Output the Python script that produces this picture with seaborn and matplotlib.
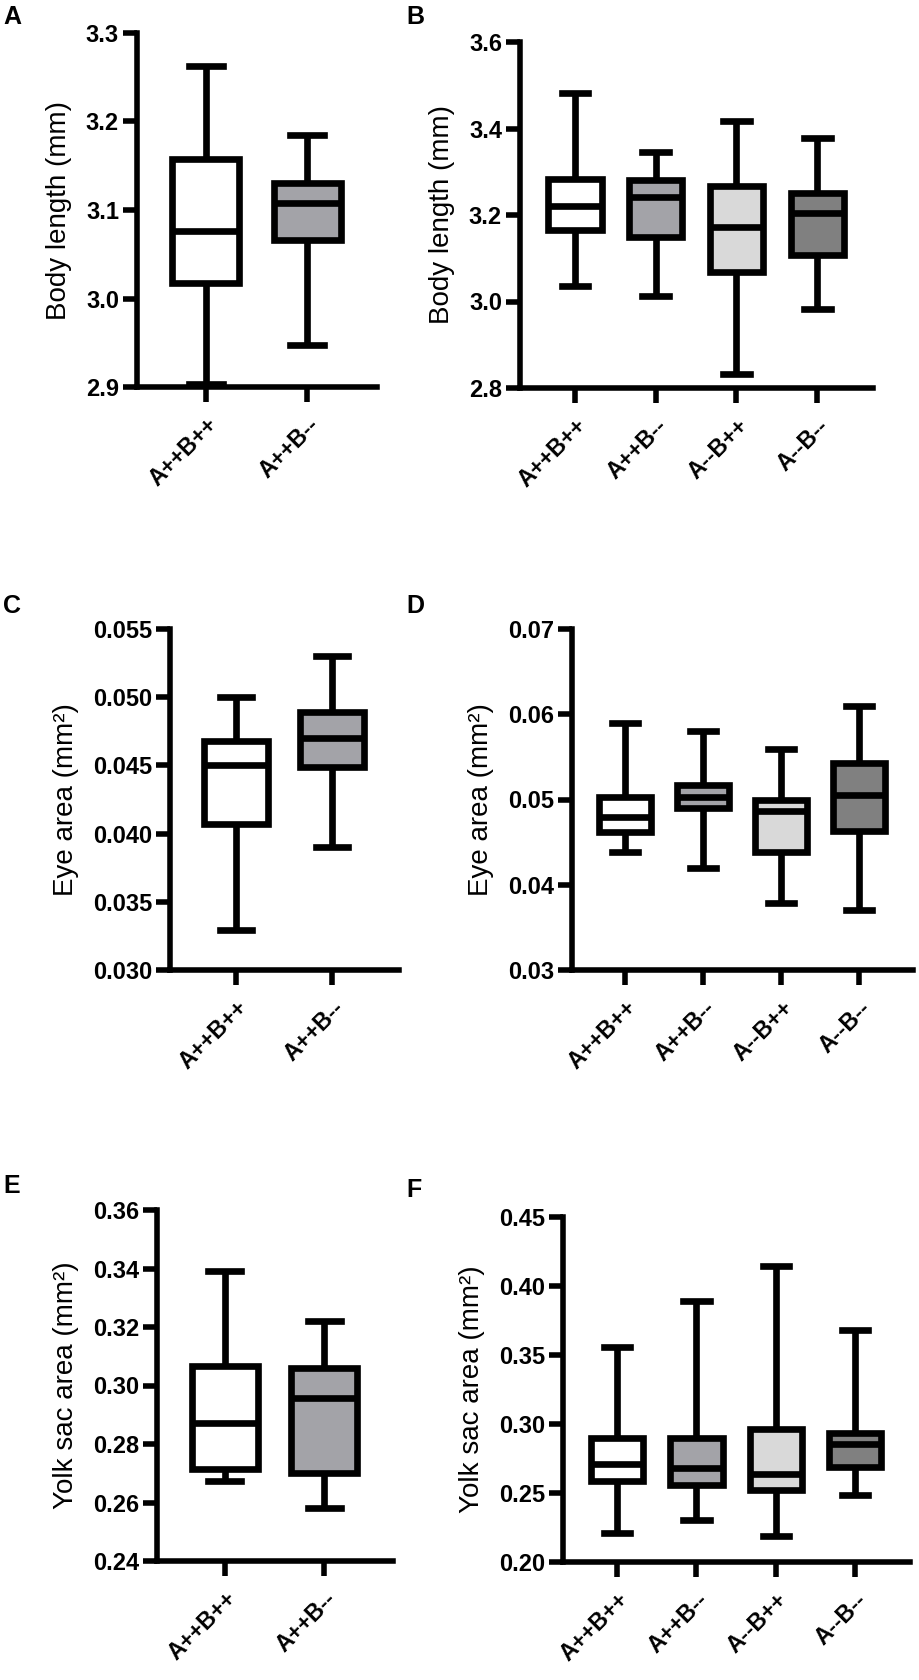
import pandas as pd
import seaborn as sns
import matplotlib.pyplot as plt
from matplotlib.ticker import FormatStrFormatter

groups2 = ["A++B++", "A++B--"]
groups4 = ["A++B++", "A++B--", "A--B++", "A--B--"]

# five-number summary per group: min, q1, median, q3, max
body_a = [[2.903, 3.017, 3.076, 3.158, 3.263],
          [2.947, 3.066, 3.108, 3.130, 3.185]]
body_b = [[3.035, 3.165, 3.220, 3.283, 3.481],
          [3.013, 3.148, 3.242, 3.281, 3.345],
          [2.832, 3.068, 3.172, 3.268, 3.418],
          [2.982, 3.108, 3.204, 3.250, 3.377]]
eye_c = [[0.0329, 0.0407, 0.0450, 0.0468, 0.0500],
         [0.0390, 0.0449, 0.0470, 0.0489, 0.0530]]
eye_d = [[0.0439, 0.0462, 0.0480, 0.0503, 0.0590],
         [0.0420, 0.0490, 0.0503, 0.0517, 0.0580],
         [0.0379, 0.0438, 0.0487, 0.0500, 0.0559],
         [0.0370, 0.0463, 0.0505, 0.0543, 0.0610]]
yolk_e = [[0.2674, 0.2713, 0.2871, 0.3068, 0.3393],
          [0.2580, 0.2700, 0.2956, 0.3061, 0.3222]]
yolk_f = [[0.2210, 0.2587, 0.2713, 0.2899, 0.3558],
          [0.2307, 0.2560, 0.2684, 0.2899, 0.3891],
          [0.2188, 0.2519, 0.2640, 0.2966, 0.4143],
          [0.2483, 0.2688, 0.2857, 0.2937, 0.3679]]

fills = {"A++B++": "#ffffff", "A++B--": "#a3a3a8",
         "A--B++": "#d9d9d9", "A--B--": "#808080"}

plt.rcParams["font.family"] = ["Liberation Sans", "DejaVu Sans"]

W, H = 919, 1680
fig = plt.figure(figsize=(W / 100, H / 100), dpi=100)

panels = [
    # letter, groups, data, ylabel, ylim, step, fmt, box px (l, r, t, b), letter px
    ("A", groups2, body_a, "Body length (mm)", (2.9, 3.3), 0.1, "%.1f", (137, 377, 33, 387), (3, 17)),
    ("B", groups4, body_b, "Body length (mm)", (2.8, 3.6), 0.2, "%.1f", (520, 873, 42, 388), (406, 17)),
    ("C", groups2, eye_c, "Eye area (mm²)", (0.030, 0.055), 0.005, "%.3f", (170, 399, 629, 970), (3, 606)),
    ("D", groups4, eye_d, "Eye area (mm²)", (0.03, 0.07), 0.01, "%.2f", (572, 913, 629, 970), (406, 606)),
    ("E", groups2, yolk_e, "Yolk sac area (mm²)", (0.24, 0.36), 0.02, "%.2f", (157, 393, 1210, 1561), (3, 1186)),
    ("F", groups4, yolk_f, "Yolk sac area (mm²)", (0.20, 0.45), 0.05, "%.2f", (563, 910, 1217, 1562), (406, 1190)),
]

for letter, groups, stats, ylabel, ylim, step, fmt, (l, r, t, b), (lx, ly) in panels:
    ax = fig.add_axes([l / W, 1 - b / H, (r - l) / W, (b - t) / H])
    rows = [(g, v) for g, vals in zip(groups, stats) for v in vals]
    df = pd.DataFrame(rows, columns=["group", "value"])
    sns.boxplot(data=df, x="group", y="value", hue="group", order=groups,
                hue_order=groups, palette=fills, saturation=1, width=0.66,
                linewidth=4.8, linecolor="black", whis=(0, 100),
                showfliers=False, legend=False, ax=ax)
    n = len(groups)
    ax.set_xlim(-0.68, n - 1 + 0.69)
    ax.set_ylim(*ylim)
    nticks = int(round((ylim[1] - ylim[0]) / step))
    ax.set_yticks([ylim[0] + i * step for i in range(nticks + 1)])
    ax.yaxis.set_major_formatter(FormatStrFormatter(fmt))
    ax.set_xticks(range(n))
    ax.set_xticklabels(groups, rotation=45, ha="right", rotation_mode="anchor")
    ax.set_xlabel("")
    ax.set_ylabel(ylabel, fontsize=20, labelpad=10)
    for side in ["top", "right"]:
        ax.spines[side].set_visible(False)
    for side in ["left", "bottom"]:
        ax.spines[side].set_linewidth(4.0)
    ax.tick_params(axis="y", width=4.0, length=10, labelsize=17, pad=3)
    ax.tick_params(axis="x", width=4.0, length=11, labelsize=16.5, pad=8)
    plt.setp(ax.get_xticklabels() + ax.get_yticklabels(), fontweight="bold")
    fig.text(lx / W, 1 - ly / H, letter, fontsize=18, fontweight="bold",
             ha="left", va="center")

fig.savefig("out.png", dpi=100)
